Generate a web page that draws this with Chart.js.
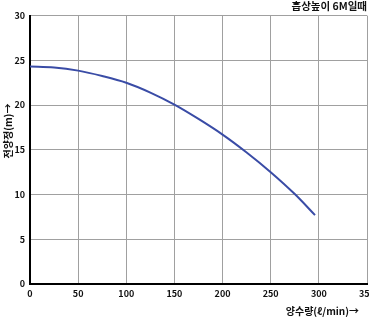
<!DOCTYPE html>
<html>
<head>
<meta charset="utf-8">
<script src="https://cdn.jsdelivr.net/npm/chart.js@4"></script>
<style>
  html, body { margin: 0; padding: 0; background: #fff; }
  #wrap { width: 370px; height: 320px; }
</style>
</head>
<body>
<div id="wrap"><canvas id="grafica"></canvas></div>
<script>
// Datos
const flow = [0, 25, 50, 75, 100, 125, 150, 175, 200, 225, 250, 275, 296];
const head = [24.3, 24.2, 23.85, 23.25, 22.5, 21.4, 20.05, 18.45, 16.7, 14.7, 12.5, 10.05, 7.7];
const xTicks = [0, 50, 100, 150, 200, 250, 300, 350];
const yTicks = [0, 5, 10, 15, 20, 25, 30];

const chartTitle = '흡상높이 6M일때';
const xTitle = '양수량(ℓ/min)→';
const yTitle = '전양정(m)→';

const fuente = "'Noto Sans CJK KR', 'Noto Sans', sans-serif";

let puntos = flow.map(function (x, i) { return { x: x, y: head[i] }; });

// Titulos de los ejes dibujados a mano para colocarlos como en el original
const titulosEjes = {
    id: 'titulosEjes',
    afterDraw: function (chart) {
        let ctx = chart.ctx;
        let area = chart.chartArea;
        ctx.save();
        ctx.fillStyle = '#111';
        ctx.font = 'bold 10px ' + fuente;
        ctx.textBaseline = 'middle';
        // eje x
        ctx.textAlign = 'right';
        ctx.fillText(xTitle, area.right - 8, chart.height - 9);
        // eje y
        ctx.translate(8, area.top + (area.bottom - area.top) * 0.43);
        ctx.rotate(-Math.PI / 2);
        ctx.textAlign = 'center';
        ctx.fillText(yTitle, 0, 0);
        ctx.restore();
    }
};

new Chart(document.getElementById('grafica'), {
    type: 'scatter',
    data: {
        datasets: [{
            data: puntos,
            showLine: true,
            borderColor: '#3a4ca6',
            borderWidth: 2,
            pointRadius: 0,
            cubicInterpolationMode: 'monotone'
        }]
    },
    options: {
        responsive: true,
        maintainAspectRatio: false,
        animation: false,
        layout: { padding: { left: 0, right: 3, top: 0, bottom: 0 } },
        plugins: {
            legend: { display: false },
            tooltip: { enabled: false },
            title: {
                display: true,
                text: chartTitle,
                align: 'end',
                color: '#111',
                font: { family: fuente, size: 10.5, weight: 'bold' },
                padding: { top: 0, bottom: 3 }
            }
        },
        scales: {
            x: {
                type: 'linear',
                min: 0,
                max: 350,
                afterBuildTicks: function (s) { s.ticks = xTicks.map(function (v) { return { value: v }; }); },
                afterFit: function (s) { s.height = 36; s.paddingLeft = 0; s.paddingRight = 0; },
                grid: { color: '#a0a0a0', drawTicks: false },
                border: { display: true, color: '#000', width: 2 },
                ticks: { color: '#111', padding: 4, font: { family: fuente, size: 9, weight: 'bold' } }
            },
            y: {
                min: 0,
                max: 30,
                afterBuildTicks: function (s) { s.ticks = yTicks.map(function (v) { return { value: v }; }); },
                afterFit: function (s) { s.width = 30; },
                grid: { color: '#a0a0a0', drawTicks: false },
                border: { display: true, color: '#000', width: 2 },
                ticks: { color: '#111', padding: 5, font: { family: fuente, size: 9, weight: 'bold' } }
            }
        }
    },
    plugins: [titulosEjes]
});
</script>
</body>
</html>
